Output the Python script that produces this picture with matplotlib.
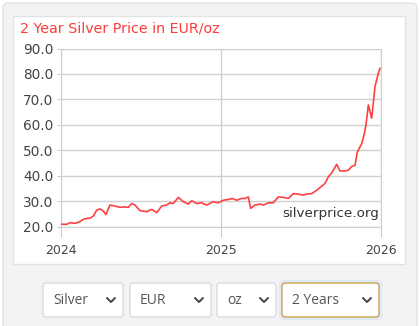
import matplotlib.pyplot as plt
from matplotlib.patches import FancyBboxPatch, Rectangle

# decimal years since 2024-01-01 and price in EUR/oz
years = [0.0, 0.035, 0.056, 0.0875, 0.119, 0.140, 0.165, 0.181, 0.202, 0.223,
         0.244, 0.265, 0.281, 0.306, 0.338, 0.369, 0.400, 0.421, 0.442, 0.4625,
         0.494, 0.535, 0.567, 0.598, 0.629, 0.660, 0.681, 0.702, 0.733, 0.765,
         0.796, 0.817, 0.848, 0.879, 0.910, 0.952, 0.983, 1.015, 1.046, 1.071,
         1.098, 1.129, 1.150, 1.171, 1.185, 1.2125, 1.244, 1.265, 1.296, 1.327,
         1.358, 1.390, 1.421, 1.452, 1.483, 1.515, 1.535, 1.567, 1.598, 1.629,
         1.650, 1.671, 1.692, 1.723, 1.744, 1.775, 1.796, 1.817, 1.8375, 1.852,
         1.879, 1.894, 1.906, 1.921, 1.942, 1.9625, 1.983, 1.994]
prices = [21.0, 20.9, 21.6, 21.3, 22.0, 22.9, 23.3, 23.3, 24.2, 26.5,
          27.0, 26.1, 24.8, 28.5, 28.1, 27.6, 27.8, 27.6, 29.1, 28.5,
          26.3, 25.9, 26.8, 25.5, 28.1, 28.5, 29.4, 29.1, 31.5, 29.8,
          28.9, 30.2, 29.1, 29.4, 28.5, 29.8, 29.4, 30.4, 30.7, 31.1,
          30.4, 31.1, 31.1, 31.7, 27.2, 28.5, 28.9, 28.5, 29.4, 29.4,
          31.7, 31.5, 31.1, 33.0, 32.8, 32.4, 32.8, 33.0, 34.3, 35.9,
          37.0, 39.6, 41.1, 44.5, 41.9, 41.9, 42.2, 43.7, 44.1, 49.3,
          52.6, 56.0, 60.0, 67.8, 62.6, 75.0, 80.2, 82.2]

year_ticks = [0, 1, 2]
year_labels = ["2024", "2025", "2026"]
price_ticks = [20, 30, 40, 50, 60, 70, 80, 90]

menu_labels = ["Silver", "EUR", "oz", "2 Years"]
W, H = 420, 326

fig = plt.figure(figsize=(W / 100, H / 100), dpi=100)
fig.patch.set_facecolor("white")

# page layer in pixel coordinates
bg = fig.add_axes([0, 0, 1, 1])
bg.set_xlim(0, W)
bg.set_ylim(H, 0)
bg.axis("off")
bg.add_patch(FancyBboxPatch((3, 3), W - 6, H + 10, boxstyle="round,pad=0,rounding_size=5",
                            facecolor="#f3f3f3", edgecolor="#e4e4e4", lw=1))
bg.add_patch(Rectangle((13, 15.5), 392, 248.5, facecolor="white", edgecolor="#e2e2e2", lw=1))
bg.text(20, 29, "2 Year Silver Price in EUR/oz", color="#ff3b3b", fontsize=10.25,
        va="center", ha="left", family="DejaVu Sans")

# dropdowns
boxes = [(43, 80), (130, 81), (217, 59), (282, 97)]
for (x0, w), label in zip(boxes, menu_labels):
    selected = label == "2 Years"
    if selected:
        bg.add_patch(FancyBboxPatch((x0 - 1.5, 281.5), w + 3, 37, boxstyle="round,pad=0,rounding_size=4",
                                    facecolor="none", edgecolor="#dfeaf6", lw=2.5))
    bg.add_patch(FancyBboxPatch((x0, 283), w, 34, boxstyle="round,pad=0,rounding_size=3",
                                facecolor="white", edgecolor="#caa24c" if selected else "#dcdcdc", lw=1))
    bg.text(x0 + 10, 300, label, color="#555555", fontsize=10, va="center", ha="left",
            family="Open Sans")
    cx = x0 + w - 12
    bg.plot([cx - 4, cx, cx + 4], [298, 302, 298], color="#444444", lw=1.4,
            solid_capstyle="round", solid_joinstyle="round")

# chart
ax = fig.add_axes([61 / W, 1 - 226.7 / H, 320 / W, 178.2 / H])
ax.plot(years, prices, color="#ff4040", lw=1.2, zorder=3)
ax.set_xlim(0, 2)
ax.set_ylim(20, 90)
ax.set_xticks(year_ticks)
ax.set_xticklabels(year_labels)
ax.set_yticks(price_ticks)
ax.set_yticklabels([f"{v:.1f}" for v in price_ticks])
ax.grid(True, color="#d0d0d0", lw=1)
for s in ax.spines.values():
    s.set_color("#d0d0d0")
ax.tick_params(axis="x", length=7.2, color="#cccccc", colors="#444444", labelsize=9, pad=5)
ax.tick_params(axis="y", length=3, color="#cccccc", colors="#444444", labelsize=9.8, pad=2.5)
ax.text(0.995, 0.035, "silverprice.org", transform=ax.transAxes, ha="right", va="bottom",
        fontsize=9.7, color="#333333")

plt.savefig("out.png", dpi=100)
plt.close()
